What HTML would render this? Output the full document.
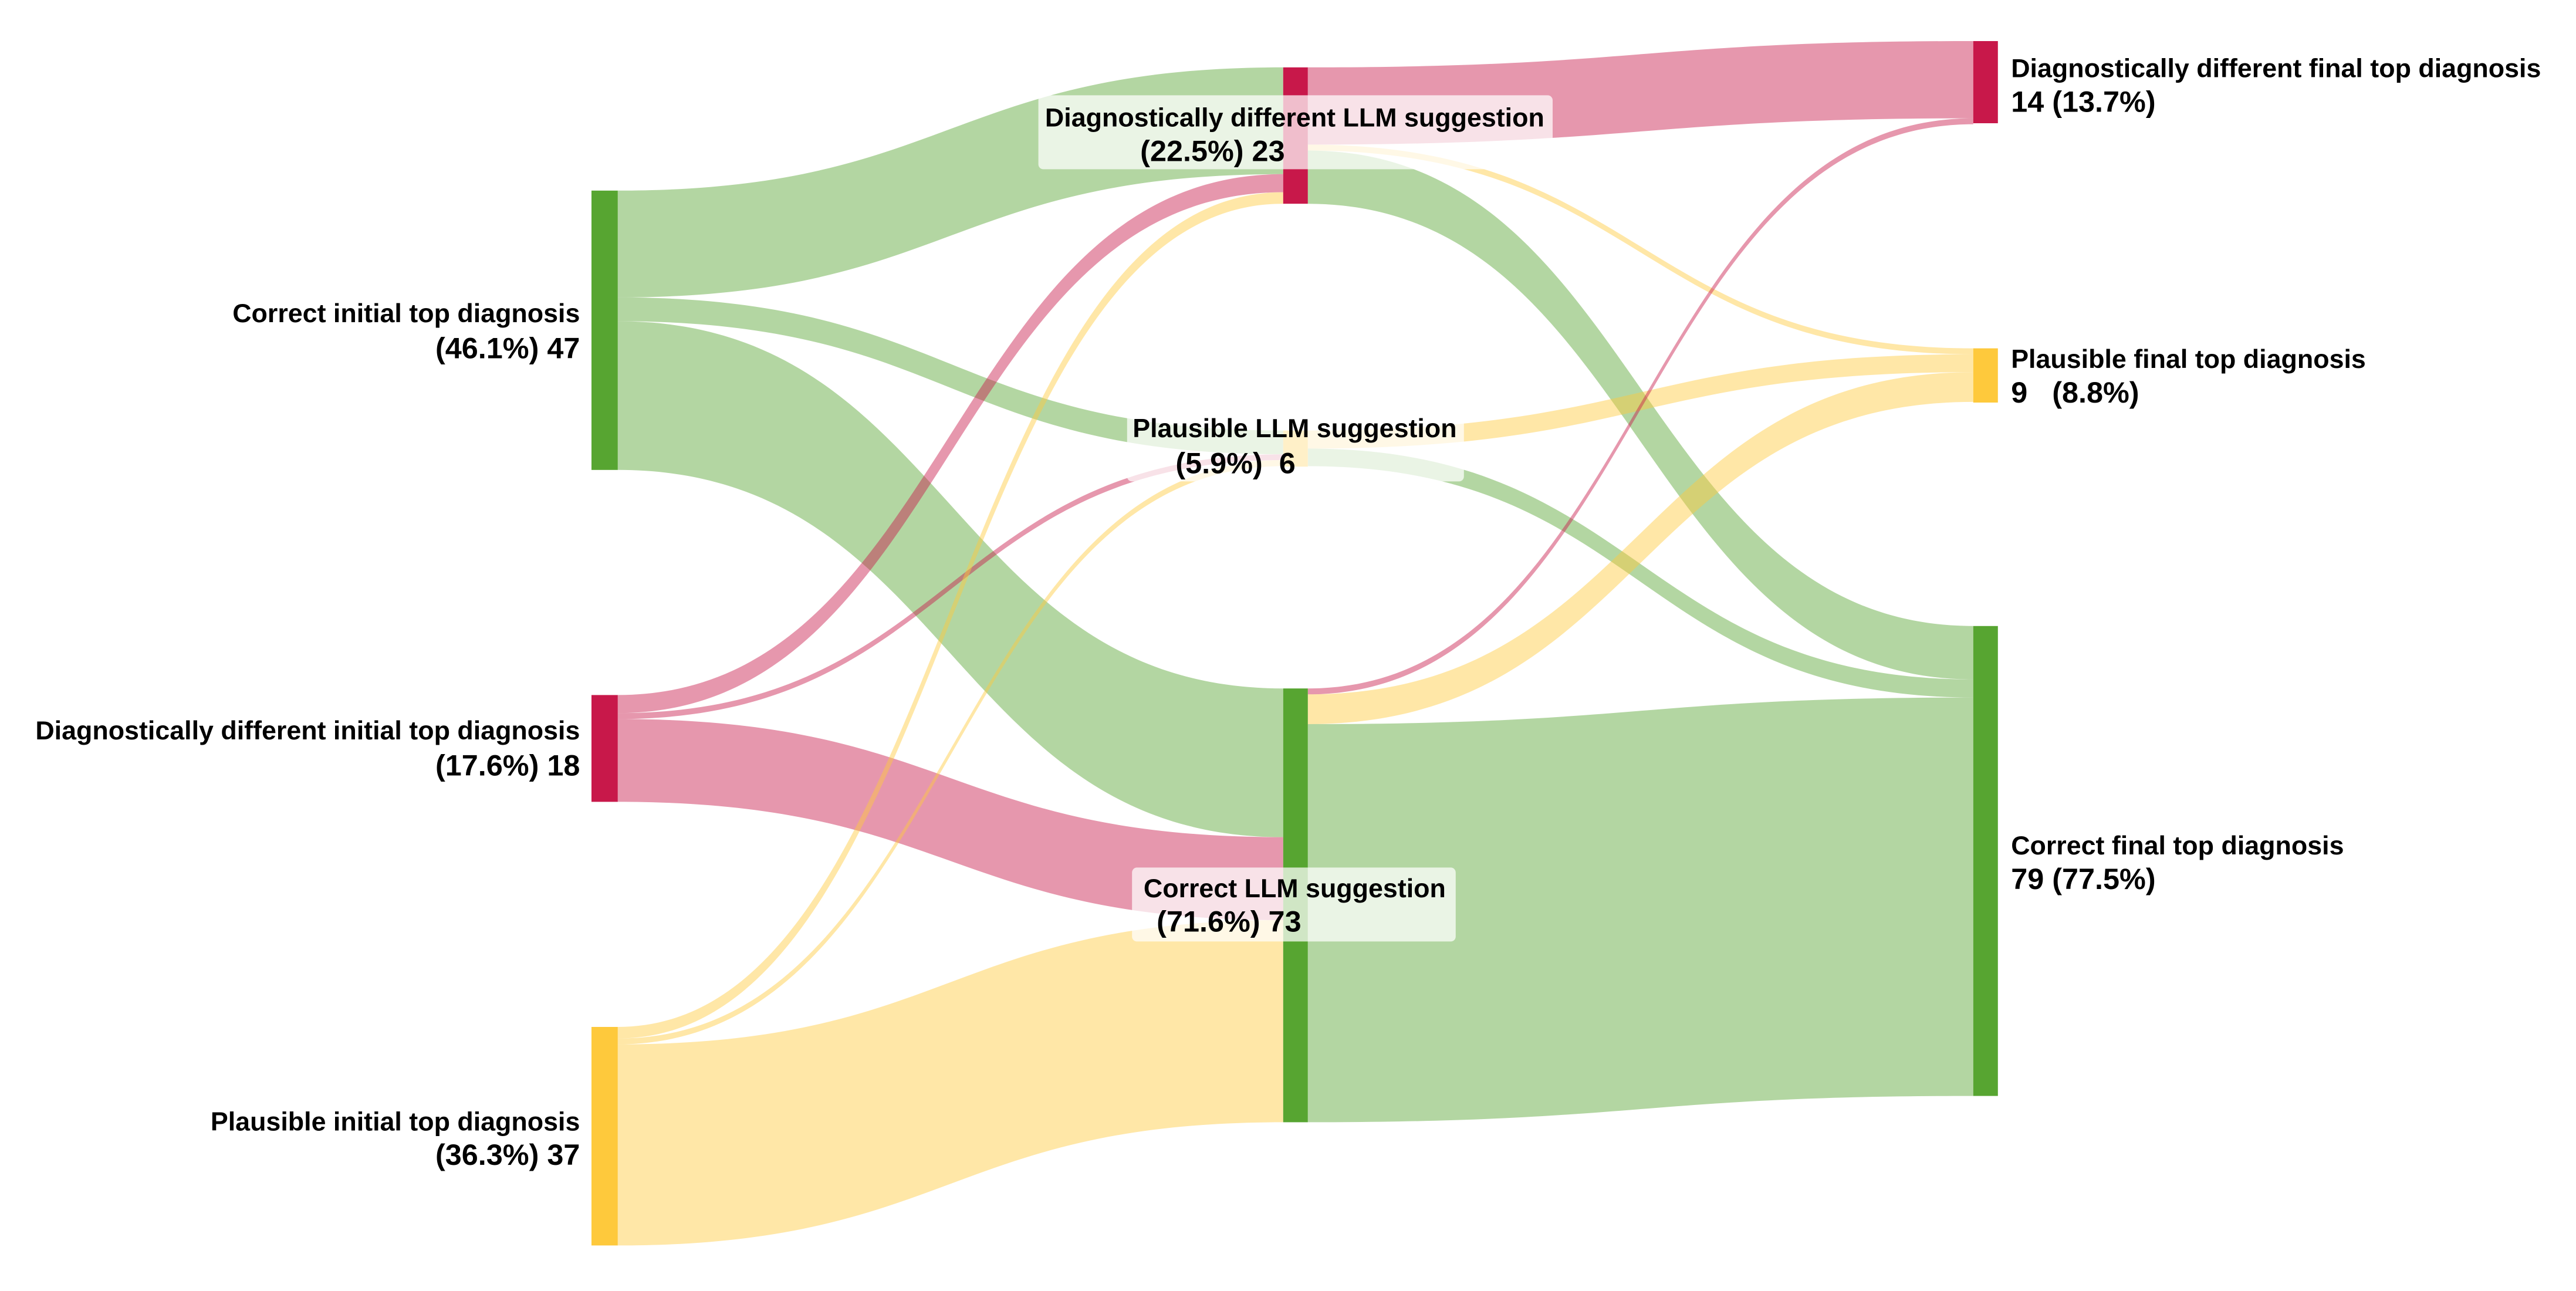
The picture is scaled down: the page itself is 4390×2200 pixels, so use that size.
<!DOCTYPE html>
<html><head><meta charset="utf-8"><style>
html,body{margin:0;padding:0;background:#fff;}
svg{display:block;}
text{font-family:"Liberation Sans",Arial,sans-serif;font-weight:bold;fill:#000;}
.a{font-size:16px;}
.b{font-size:18px;}
</style></head><body>
<svg width="4390" height="2200" viewBox="0 0 1567.86 785.71" xmlns="http://www.w3.org/2000/svg">
<g>
<path fill="rgba(87,165,49,0.45)" d="M376,116 C578.5,116 578.5,41 781,41 L781,106 C578.5,106 578.5,181 376,181 Z"/>
<path fill="rgba(87,165,49,0.45)" d="M376,181 C578.5,181 578.5,262 781,262 L781,276.5 C578.5,276.5 578.5,195.5 376,195.5 Z"/>
<path fill="rgba(87,165,49,0.45)" d="M376,195.5 C578.5,195.5 578.5,419 781,419 L781,509.5 C578.5,509.5 578.5,286 376,286 Z"/>
<path fill="rgba(200,24,74,0.45)" d="M376,423 C578.5,423 578.5,106 781,106 L781,117 C578.5,117 578.5,434 376,434 Z"/>
<path fill="rgba(200,24,74,0.45)" d="M376,434 C578.5,434 578.5,276.5 781,276.5 L781,280 C578.5,280 578.5,437.6 376,437.6 Z"/>
<path fill="rgba(200,24,74,0.45)" d="M376,437.6 C578.5,437.6 578.5,509.5 781,509.5 L781,560 C578.5,560 578.5,488 376,488 Z"/>
<path fill="rgba(254,201,60,0.45)" d="M376,625 C578.5,625 578.5,117 781,117 L781,124 C578.5,124 578.5,632 376,632 Z"/>
<path fill="rgba(254,201,60,0.45)" d="M376,632 C578.5,632 578.5,280 781,280 L781,283.7 C578.5,283.7 578.5,635.6 376,635.6 Z"/>
<path fill="rgba(254,201,60,0.45)" d="M376,635.6 C578.5,635.6 578.5,560 781,560 L781,683 C578.5,683 578.5,758 376,758 Z"/>
<path fill="rgba(200,24,74,0.45)" d="M796,41 C998.5,41 998.5,25 1201,25 L1201,72 C998.5,72 998.5,88 796,88 Z"/>
<path fill="rgba(254,201,60,0.45)" d="M796,88 C998.5,88 998.5,212 1201,212 L1201,215.6 C998.5,215.6 998.5,91.6 796,91.6 Z"/>
<path fill="rgba(87,165,49,0.45)" d="M796,91.6 C998.5,91.6 998.5,381 1201,381 L1201,413.5 C998.5,413.5 998.5,124 796,124 Z"/>
<path fill="rgba(254,201,60,0.45)" d="M796,262 C998.5,262 998.5,215.6 1201,215.6 L1201,226.5 C998.5,226.5 998.5,273 796,273 Z"/>
<path fill="rgba(87,165,49,0.45)" d="M796,273 C998.5,273 998.5,413.5 1201,413.5 L1201,424.5 C998.5,424.5 998.5,283.7 796,283.7 Z"/>
<path fill="rgba(200,24,74,0.45)" d="M796,419 C998.5,419 998.5,72 1201,72 L1201,75.6 C998.5,75.6 998.5,422.6 796,422.6 Z"/>
<path fill="rgba(254,201,60,0.45)" d="M796,422.6 C998.5,422.6 998.5,226.5 1201,226.5 L1201,244.6 C998.5,244.6 998.5,440.7 796,440.7 Z"/>
<path fill="rgba(87,165,49,0.45)" d="M796,440.7 C998.5,440.7 998.5,424.5 1201,424.5 L1201,667 C998.5,667 998.5,683 796,683 Z"/>
</g>
<rect x="360" y="116" width="16" height="170" fill="#57a531"/>
<rect x="360" y="423" width="16" height="65" fill="#c8184a"/>
<rect x="360" y="625" width="16" height="133" fill="#fec93c"/>
<rect x="781" y="41" width="15" height="83" fill="#c8184a"/>
<rect x="781" y="262" width="15" height="22" fill="#fec93c"/>
<rect x="781" y="419" width="15" height="264" fill="#57a531"/>
<rect x="1201" y="25" width="15" height="50" fill="#c8184a"/>
<rect x="1201" y="212" width="15" height="33" fill="#fec93c"/>
<rect x="1201" y="381" width="15" height="286" fill="#57a531"/>
<rect x="632" y="58" width="313" height="45" rx="3" fill="rgba(255,255,255,0.72)"/>
<rect x="686" y="249" width="205" height="44" rx="3" fill="rgba(255,255,255,0.72)"/>
<rect x="689" y="528" width="197" height="45" rx="3" fill="rgba(255,255,255,0.72)"/>
<text class="a" x="353" y="196" text-anchor="end">Correct initial top diagnosis</text>
<text class="b" x="353" y="218" text-anchor="end">(46.1%) 47</text>
<text class="a" x="353" y="450" text-anchor="end">Diagnostically different initial top diagnosis</text>
<text class="b" x="353" y="472" text-anchor="end">(17.6%) 18</text>
<text class="a" x="353" y="688" text-anchor="end">Plausible initial top diagnosis</text>
<text class="b" x="353" y="709" text-anchor="end">(36.3%) 37</text>
<text class="a" x="788" y="77" text-anchor="middle">Diagnostically different LLM suggestion</text>
<text class="b" x="738" y="98" text-anchor="middle">(22.5%) 23</text>
<text class="a" x="788" y="266" text-anchor="middle">Plausible LLM suggestion</text>
<text class="b" x="752" y="288" text-anchor="middle" xml:space="preserve">(5.9%)  6</text>
<text class="a" x="788" y="546" text-anchor="middle">Correct LLM suggestion</text>
<text class="b" x="748" y="567" text-anchor="middle">(71.6%) 73</text>
<text class="a" x="1224" y="47">Diagnostically different final top diagnosis</text>
<text class="b" x="1224" y="68">14 (13.7%)</text>
<text class="a" x="1224" y="224">Plausible final top diagnosis</text>
<text class="b" x="1224" y="245" xml:space="preserve">9   (8.8%)</text>
<text class="a" x="1224" y="520">Correct final top diagnosis</text>
<text class="b" x="1224" y="541">79 (77.5%)</text>
</svg>
</body></html>
